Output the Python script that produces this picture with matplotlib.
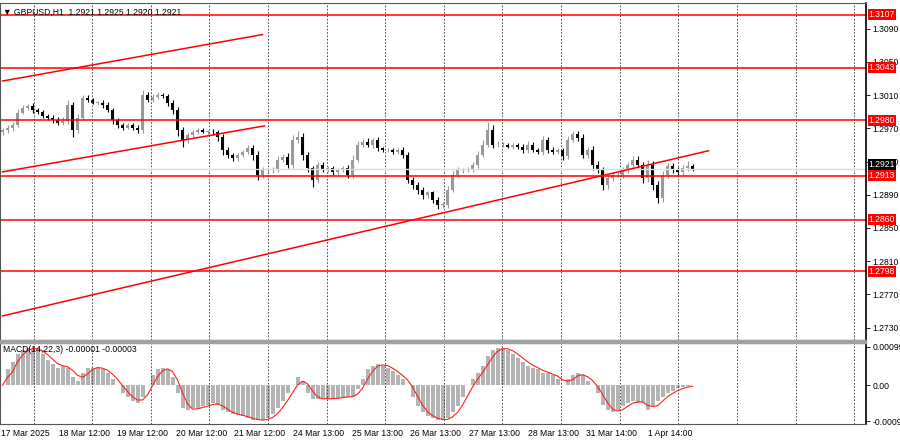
import matplotlib
matplotlib.use("Agg")
import matplotlib.pyplot as plt
import numpy as np
import pandas as pd

plt.rcParams['font.family'] = ['Liberation Sans', 'DejaVu Sans']

# closes in pips relative to 1.2900 (2-hour bars)
close_pips = [68,71,74,89,95,97,92,90,85,83,80,77,79,98,68,83,107,104,101,101,98,92,80,74,71,74,71,68,110,104,108,110,109,101,92,68,56,62,65,68,66,66,65,59,44,38,34,38,42,46,38,14,20,20,20,32,36,26,56,60,38,22,8,26,20,22,17,20,22,14,32,50,54,50,56,46,44,44,42,44,38,8,2,-4,-10,-7,-16,-22,-22,-4,14,20,20,20,26,38,50,68,50,50,50,48,50,48,44,50,44,42,56,44,42,44,37,56,63,58,38,44,26,20,2,10,14,14,20,26,32,26,10,26,2,-14,14,25,20,17,22,25,21]
wick_up = [3,4,5,6,4,3,5,4,3,3,4,5,6,8,5,6,5,4,3,3,4,5,4,3,4,3,4,5,9,5,4,5,4,3,5,6,5,4,4,4,3,3,4,5,6,5,4,4,3,5,6,7,5,4,5,6,5,6,8,10,6,5,4,5,5,4,4,3,4,5,8,7,5,6,4,5,3,3,4,4,5,5,4,4,4,3,3,4,5,7,6,5,4,5,5,6,8,14,8,6,5,4,4,4,5,6,5,4,6,5,5,4,4,6,5,6,8,5,6,6,5,5,4,4,5,5,6,7,5,8,6,6,7,5,4,5,6,8,3]
wick_dn = [4,5,6,4,3,4,5,4,3,4,5,4,5,6,12,6,5,4,3,4,5,4,6,5,4,3,4,6,5,4,3,4,4,5,6,10,12,5,4,3,3,4,5,6,8,6,4,4,3,4,8,9,5,4,5,4,4,6,5,6,8,7,12,6,4,4,5,4,4,6,5,4,4,4,5,4,3,3,4,4,5,6,8,8,7,6,5,7,6,5,4,4,5,4,4,5,4,4,5,4,4,3,4,4,5,5,4,4,6,5,4,4,8,5,4,5,6,5,8,6,9,8,5,4,5,5,4,6,8,6,9,8,6,5,5,6,5,4,3]
macd_hist = [0,40,60,80,90,95,95,90,80,65,55,45,50,45,20,10,30,45,45,45,40,30,15,0,-20,-30,-40,-45,-30,0,25,40,45,40,20,-20,-60,-65,-60,-58,-55,-50,-45,-50,-65,-70,-75,-78,-80,-85,-90,-90,-90,-85,-75,-60,-40,-20,0,20,10,-20,-35,-35,-35,-35,-35,-32,-30,-30,-30,-10,15,40,50,55,50,45,35,25,15,0,-30,-55,-70,-80,-85,-90,-90,-85,-70,-55,-30,0,15,30,50,75,90,95,95,90,80,70,60,50,45,40,30,30,25,15,0,15,25,30,25,10,0,-20,-50,-65,-70,-65,-55,-45,-40,-45,-45,-65,-55,-40,-30,-20,-15,-8,-5,-3,-1]
levels = [1.3107, 1.3043, 1.2980, 1.2913, 1.2860, 1.2798]
price_ticks = [1.3090, 1.3050, 1.3010, 1.2970, 1.2930, 1.2890, 1.2850, 1.2810, 1.2770, 1.2730]
date_labels = ["17 Mar 2025","18 Mar 12:00","19 Mar 12:00","20 Mar 12:00","21 Mar 12:00","24 Mar 13:00",
               "25 Mar 13:00","26 Mar 13:00","27 Mar 13:00","28 Mar 13:00","31 Mar 14:00","1 Apr 14:00"]
trend_x = [(0, 52), (0, 52.4), (0, 141.2)]
trend_y = [(1.3027, 1.3083), (1.29175, 1.2973), (1.2744, 1.2943)]
last_price = 1.2921

FS = 6.2
W, H = 900, 441
fig = plt.figure(figsize=(W/100, H/100), dpi=100)
PX = 5.0
axw = 866 / W
ax = fig.add_axes([0, 1 - 340/H, axw, 337/H])
am = fig.add_axes([0, 1 - 424/H, axw, 81/H])
fig.patches.append(plt.Rectangle((0, 1 - 343/H), axw, 3/H, transform=fig.transFigure, color='#a0a0a0'))

c = np.array(close_pips) / 10000 + 1.29
o = np.concatenate([[c[0] - 0.0003], c[:-1]])
hi = np.maximum(o, c) + np.array(wick_up) / 10000 * 0.7
lo = np.minimum(o, c) - np.array(wick_dn) / 10000 * 0.7
n = len(c)
xs = np.arange(n)
for i in range(n):
    col = '#9a9a9a' if c[i] >= o[i] else 'black'
    ax.vlines(xs[i], lo[i], hi[i], color=col, lw=0.8)
    ax.bar(xs[i], max(abs(c[i] - o[i]), 0.00003), bottom=min(o[i], c[i]), width=0.75, color=col, lw=0)

xmax = 866 / PX - 0.5
for a in (ax, am):
    a.set_xlim(-0.5, xmax)
    a.set_xticks([])
    for s in a.spines.values():
        s.set_color('#555555'); s.set_linewidth(0.8)
    a.spines['right'].set_color('black')
    a.spines['right'].set_linewidth(1.2)
grid_px = [31 + 58.62 * k for k in range(15)]
for gp in grid_px:
    for a in (ax, am):
        a.axvline(gp / PX, color='#333333', lw=0.6, ls=(0, (2, 2)))

ax.set_ylim(1.2715, 1.3121)
ax.yaxis.tick_right()
ax.set_yticks(price_ticks)
ax.set_yticklabels([f"{t:.4f}" for t in price_ticks], fontsize=FS)
ax.tick_params(axis='y', length=3, pad=1.5, width=0.6)
ax.axhline(last_price, color='#dddddd', lw=1)
for lv in levels:
    ax.axhline(lv, color='red', lw=1.1)
    ax.text(1.003, lv, f"{lv:.4f}", transform=ax.get_yaxis_transform(), fontsize=FS, color='white',
            va='center', ha='left', zorder=10, bbox=dict(boxstyle='square,pad=0.12', fc='red', ec='none'))
ax.text(1.003, last_price + 0.00002, f"{last_price:.4f}", transform=ax.get_yaxis_transform(), fontsize=FS,
        color='white', va='bottom', ha='left', zorder=10, bbox=dict(boxstyle='square,pad=0.12', fc='black', ec='none'))
for tx, ty in zip(trend_x, trend_y):
    ax.plot(tx, ty, color='red', lw=1.1)
ax.text(0.004, 0.985, "▼ GBPUSD,H1  1.2921 1.2925 1.2920 1.2921", transform=ax.transAxes,
        fontsize=FS, va='top', ha='left')

h = np.array(macd_hist) / 100000
am.bar(xs, h, width=0.8, color='#b4b4b4', lw=0)
sig = pd.Series(h).rolling(3, min_periods=1).mean()
am.plot(xs, sig, color='#ff2020', lw=0.8)
am.set_ylim(-0.00100, 0.00108)
am.yaxis.tick_right()
am.set_yticks([0.00099, 0.0, -0.00093])
am.set_yticklabels(["0.00099", "0.00", "-0.00093"], fontsize=FS)
am.tick_params(axis='y', length=3, pad=1.5, width=0.6)
am.text(0.004, 0.97, "MACD(14,22,3) -0.00001 -0.00003", transform=am.transAxes, fontsize=FS, va='top')
for k, lab in enumerate(date_labels):
    am.text((grid_px[k] - 8) / PX, -0.06, lab, transform=am.get_xaxis_transform(), fontsize=FS,
            ha='center', va='top')
fig.savefig("out.png", dpi=100, facecolor='white')
